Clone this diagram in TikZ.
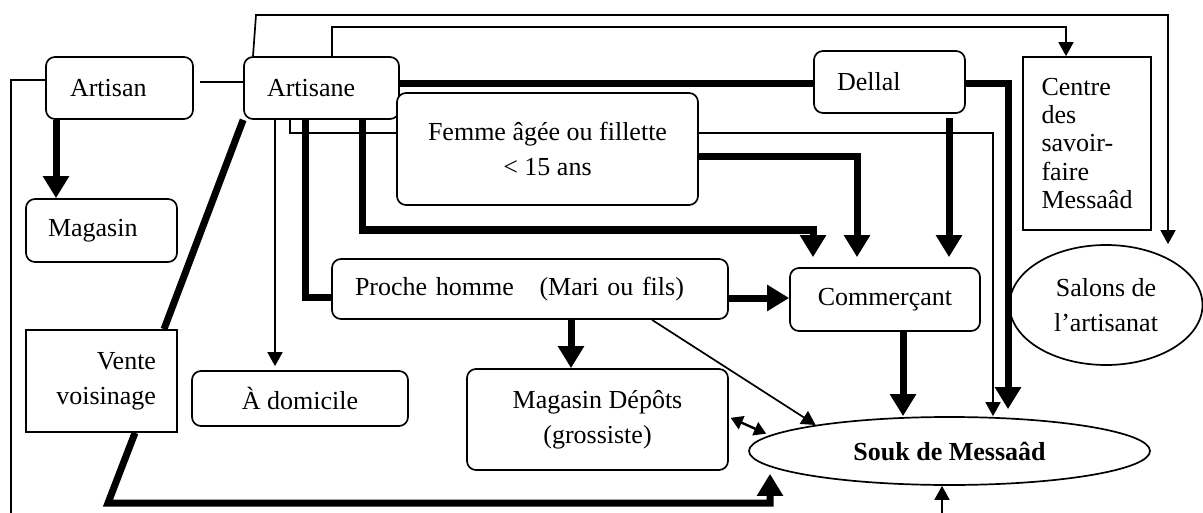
\documentclass[tikz,border=0pt]{standalone}
\usepackage{fontspec}
\setmainfont{Liberation Serif}
\usetikzlibrary{arrows.meta,shapes.geometric,backgrounds}
\begin{document}
\begin{tikzpicture}[x=0.5pt,y=-0.5pt,
  every node/.style={font=\fontsize{13}{17.5}\selectfont},
  rbox/.style={draw,line width=0.85pt,rounded corners=4.5pt,fill=white,inner sep=0pt},
  sbox/.style={draw,line width=0.85pt,fill=white,inner sep=0pt},
  ebox/.style={draw,line width=0.85pt,ellipse,fill=white,inner sep=0pt},
  thinline/.style={line width=0.85pt},
  thinarrow/.style={line width=0.85pt,-{Triangle[width=7.5pt,length=7pt]}},
  thickline/.style={line width=3.5pt},
  thickarrow/.style={line width=3.5pt,-{Triangle[width=12.5pt,length=11pt]}},
  dblarrow/.style={line width=1.2pt,{Triangle[width=7pt,length=6pt]}-{Triangle[width=7pt,length=6pt]}}
]
\useasboundingbox (0,0) rectangle (1203,513);

% nodes
\node[rbox,minimum width=73.5pt,minimum height=31pt,text width=49.5pt,align=left,inner xsep=12pt] (artisan) at (119.5,88) {Artisan};
\node[rbox,minimum width=77.5pt,minimum height=31pt,text width=54.5pt,align=left,inner xsep=11.5pt] (artisane) at (321.5,88) {Artisane};
\node[rbox,minimum width=75.5pt,minimum height=31.5pt,text width=53.5pt,align=left,inner xsep=11pt] (magasin) at (101.5,230.5) {Magasin};
\node[rbox,minimum width=150.5pt,minimum height=56pt,align=center] (femme) at (547.5,149) {Femme âgée ou fillette\\< 15 ans};
\node[rbox,minimum width=75.5pt,minimum height=31pt,text width=52.5pt,align=left,inner xsep=11.5pt] (dellal) at (889.5,82) {Dellal};
\node[sbox,minimum width=64pt,minimum height=86.5pt,align=left,font=\fontsize{13}{14.1}\selectfont] (centre) at (1087,143.5) {Centre\\des\\savoir-\\faire\\Messaâd};
\node[ebox,minimum width=96.5pt,minimum height=60pt,align=center] (salons) at (1106,305) {Salons de\\l’artisanat};
\node[rbox,minimum width=198pt,minimum height=30pt,text width=175pt,align=left,inner xsep=11.5pt] (proche) at (530,289) {Proche homme\hspace{8.5pt} (Mari ou fils)};
\node[rbox,minimum width=95pt,minimum height=31.5pt] (commercant) at (885,299.5) {Commerçant};
\node[rbox,minimum width=108pt,minimum height=27.5pt] (domicile) at (300,398.5) {À domicile};
\node[sbox,minimum width=75.5pt,minimum height=51pt,text width=54.5pt,align=right,inner xsep=10.5pt] (vente) at (101.5,381) {Vente\\voisinage};
\node[rbox,minimum width=130.5pt,minimum height=50.5pt,align=center] (depots) at (597.5,419.5) {Magasin Dépôts\\(grossiste)};
\node[ebox,minimum width=200.5pt,minimum height=34pt,font=\fontsize{13}{17.5}\selectfont\bfseries] (souk) at (949.5,451) {Souk de Messaâd};

\coordinate (botL) at (11,513);
\coordinate (botS) at (942,513);

% line passing behind the Femme box
\begin{scope}[on background layer]
\draw[thinarrow] (artisane.south -| 290,0) -- (290,133) -- (993,133) -- (souk.north -| 993,0);
\end{scope}

% thin connectors
\draw[thinline,shorten <=3pt] (artisan.east |- 0,82) -- (artisane.west |- 0,82);
\draw[thinline] (artisan.west |- 0,80) -- (11,80) -- (botL);
\draw[thinarrow] (artisane.north -| 253,0) -- (256,15) -- (1168,15) -- (salons.north -| 1168,0);
\draw[thinarrow] (artisane.north -| 332,0) -- (332,27) -- (1066,27) -- (centre.north -| 1066,0);
\draw[thinarrow,shorten >=2pt] (artisane.south -| 275,0) -- (domicile.north -| 275,0);
\draw[thinarrow] (proche.south -| 652,0) -- (souk.169);
\draw[dblarrow,shorten >=2pt,shorten <=1pt] (depots.east |- 0,417) -- (souk.175);
\draw[thinarrow] (botS) -- (souk.south -| 942,0);

% thick connectors
\draw[thickarrow] (artisan.south -| 56,0) -- (magasin.north -| 56,0);
\draw[thickline] (artisane.east |- 0,84) -- (dellal.west |- 0,84);
\draw[thickarrow,shorten >=3.5pt] (dellal.east |- 0,84) -- (1008,84) -- (souk.north -| 1008,0);
\draw[thickarrow,shorten >=5pt,shorten <=2pt] (dellal.south -| 949,0) -- (commercant.north -| 949,0);
\draw[thickarrow,shorten >=5pt] (femme.east |- 0,157) -- (857,157) -- (commercant.north -| 857,0);
\draw[thickarrow,shorten >=5pt] (artisane.south -| 362,0) -- (362,230) -- (813,230) -- (commercant.north -| 813,0);
\draw[thickline] (artisane.south -| 305,0) -- (305,297) -- (proche.west |- 0,297);
\draw[thickline] (artisane.south west) -- (vente.north -| 164,0);
\draw[thickarrow,shorten >=-6pt] (vente.south -| 135,0) -- (108,503) -- (770,503) -- (souk.south -| 770,0);
\draw[thickarrow] (proche.east |- 0,298) -- (commercant.west |- 0,298);
\draw[thickarrow] (proche.south -| 571,0) -- (depots.north -| 571,0);
\draw[thickarrow] (commercant.south -| 903,0) -- (souk.north -| 903,0);
\end{tikzpicture}
\end{document}
